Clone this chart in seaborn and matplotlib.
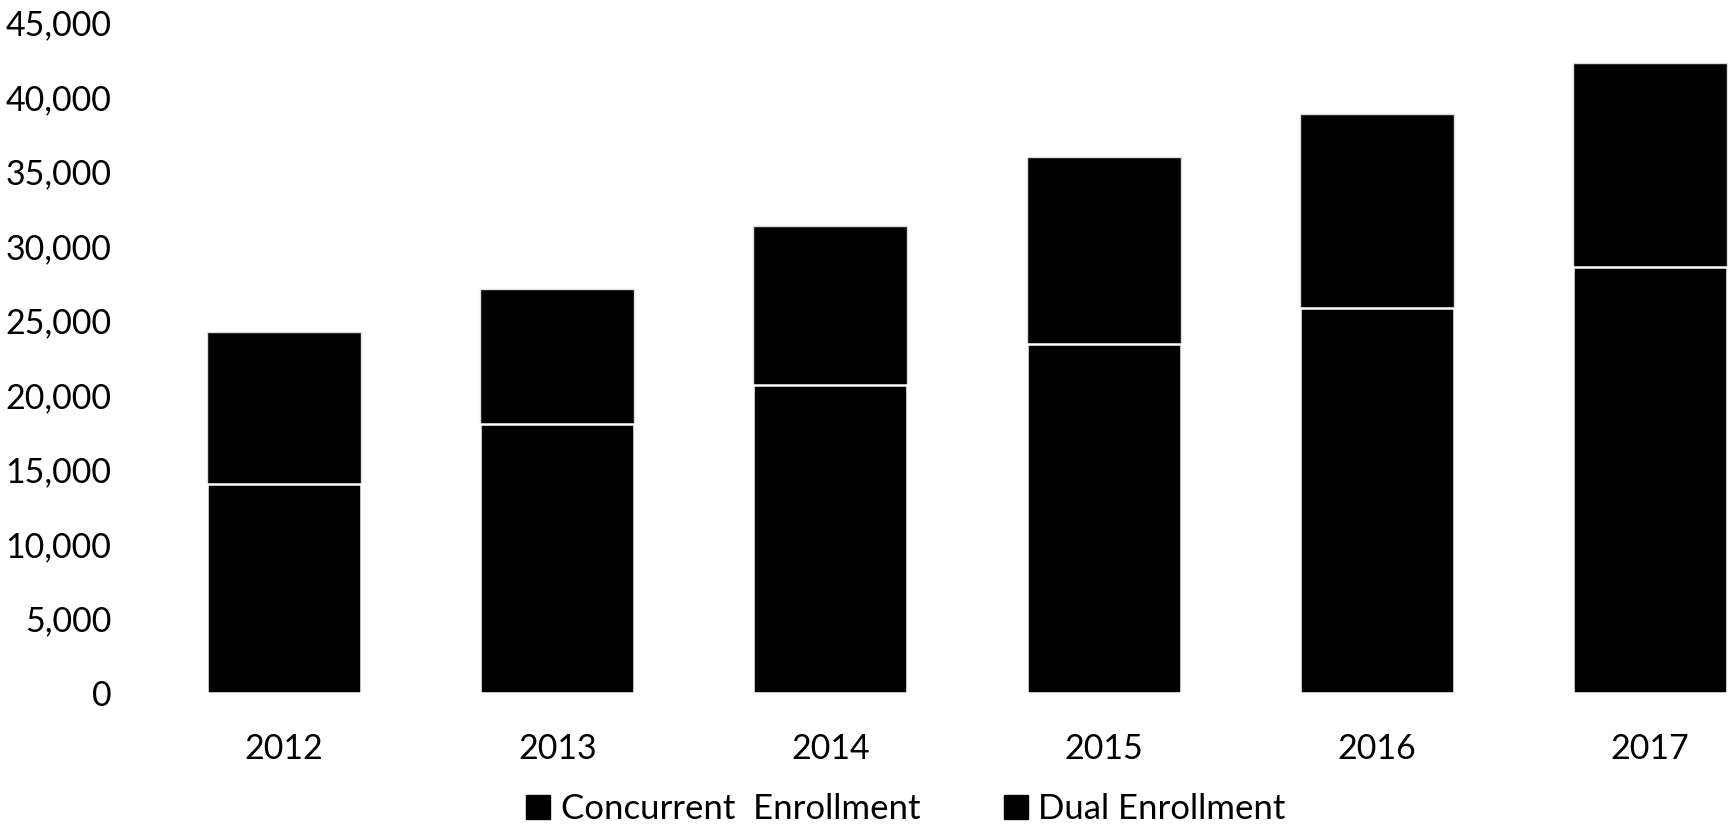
import matplotlib
matplotlib.use("Agg")
import matplotlib.pyplot as plt
import seaborn as sns
import pandas as pd
from matplotlib.patches import Patch
from matplotlib.ticker import FuncFormatter

years = ["2012", "2013", "2014", "2015", "2016", "2017"]
concurrent = [14050, 18050, 20670, 23400, 25850, 28600]
dual = [10200, 9050, 10660, 12550, 13000, 13650]
series_names = ["Concurrent  Enrollment", "Dual Enrollment"]
y_ticks = [0, 5000, 10000, 15000, 20000, 25000, 30000, 35000, 40000, 45000]

sns.set_theme(style="white")
plt.rcParams['font.family'] = ['Lato', 'DejaVu Sans']

df = pd.DataFrame({"year": years, "concurrent": concurrent, "dual": dual})
df["total"] = df["concurrent"] + df["dual"]

fig = plt.figure(figsize=(17.3, 8.24), dpi=100)
ax = fig.add_axes([147.4 / 1730, (824 - 693) / 824, (1730 - 147.4) / 1730, (693 - 22.5) / 824])

sns.barplot(data=df, x="year", y="total", color="black", saturation=1, width=0.564,
            edgecolor="#dddddd", linewidth=1.0, ax=ax)
sns.barplot(data=df, x="year", y="concurrent", color="black", saturation=1, width=0.564,
            edgecolor="white", linewidth=1.8, ax=ax)

ax.set_xlim(-0.5, (1730 - 147.4) / 273.2 - 0.5)
ax.set_ylim(0, 45000)
ax.set_yticks(y_ticks)
ax.yaxis.set_major_formatter(FuncFormatter(lambda v, p: f"{int(v):,}"))
ax.set_xlabel("")
ax.set_ylabel("")
for s in ax.spines.values():
    s.set_visible(False)
ax.tick_params(axis="y", length=0, pad=26, labelsize=24.5, colors="black")
ax.tick_params(axis="x", length=0, pad=29, labelsize=24.5, colors="black")
ax.grid(False)

handles = [Patch(facecolor="black", edgecolor="black"), Patch(facecolor="black", edgecolor="black")]
fig.legend(handles, series_names, loc="center", bbox_to_anchor=(906 / 1730, 1 - 809 / 824),
           ncol=2, frameon=False, fontsize=25, handlelength=0.7, handleheight=0.7,
           handletextpad=0.3, columnspacing=2.4, labelcolor="black")

fig.savefig("out.png", dpi=100)
